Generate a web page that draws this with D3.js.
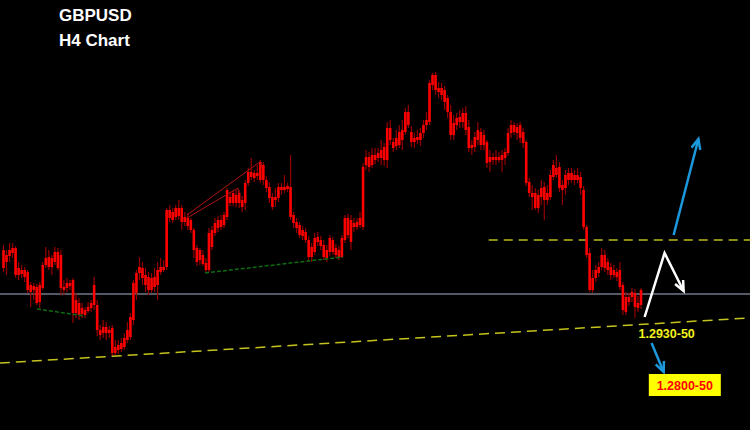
<!DOCTYPE html>
<html>
<head>
<meta charset="utf-8">
<script src="https://cdn.jsdelivr.net/npm/d3@7"></script>
<style>
  body { margin: 0; background: #000; }
</style>
</head>
<body>
<script>
// GBPUSD H4 candles (oldest first)
const open = [
  1.3080,1.3056,1.3068,1.3074,1.3084,1.3030,1.3040,1.3040,1.3036,1.3010,
  1.3000,1.3006,1.2976,1.3004,1.3050,1.3066,1.3046,1.3056,1.3076,1.3070,
  1.3000,1.3004,1.3014,1.3020,1.2954,1.2974,1.2952,1.2960,1.2958,1.2964,
  1.2970,1.2970,1.2920,1.2914,1.2926,1.2914,1.2924,1.2874,1.2890,1.2882,
  1.2886,1.2900,1.2906,1.2940,1.2994,1.3034,1.3044,1.3030,1.3026,1.3000,
  1.3026,1.3010,1.3036,1.3046,1.3046,1.3160,1.3156,1.3146,1.3164,1.3136,
  1.3146,1.3144,1.3140,1.3120,1.3084,1.3060,1.3070,1.3054,1.3040,1.3086,
  1.3114,1.3124,1.3140,1.3130,1.3146,1.3186,1.3174,1.3190,1.3174,1.3180,
  1.3174,1.3214,1.3236,1.3224,1.3234,1.3220,1.3250,1.3220,1.3206,1.3186,
  1.3180,1.3184,1.3206,1.3200,1.3208,1.3206,1.3150,1.3136,1.3130,1.3108,
  1.3116,1.3100,1.3066,1.3076,1.3106,1.3100,1.3090,1.3064,1.3076,1.3100,
  1.3084,1.3080,1.3066,1.3100,1.3144,1.3096,1.3134,1.3126,1.3130,1.3126,
  1.3250,1.3266,1.3250,1.3270,1.3264,1.3264,1.3286,1.3260,1.3324,1.3296,
  1.3288,1.3290,1.3300,1.3316,1.3356,1.3316,1.3296,1.3300,1.3300,1.3314,
  1.3330,1.3336,1.3410,1.3430,1.3404,1.3404,1.3400,1.3384,1.3356,1.3310,
  1.3330,1.3336,1.3336,1.3354,1.3326,1.3284,1.3286,1.3300,1.3316,1.3290,
  1.3296,1.3266,1.3260,1.3266,1.3260,1.3260,1.3264,1.3274,1.3314,1.3330,
  1.3326,1.3304,1.3316,1.3296,1.3216,1.3194,1.3194,1.3164,1.3186,1.3206,
  1.3180,1.3186,1.3226,1.3244,1.3246,1.3210,1.3204,1.3220,1.3234,1.3220,
  1.3230,1.3226,1.3200,1.3126,1.3074,1.3000,1.3024,1.3034,1.3046,1.3070,
  1.3056,1.3046,1.3030,1.3036,1.3040,1.3010,1.2956,1.2986,1.2986,1.2994,
  1.2964,1.2970
];
const close = [
  1.3044,1.3070,1.3080,1.3084,1.3030,1.3044,1.3032,1.3026,1.3000,1.2996,
  1.3008,1.2974,1.3010,1.3050,1.3064,1.3046,1.3064,1.3076,1.3044,1.3004,
  1.3006,1.3014,1.3008,1.2954,1.2980,1.2950,1.2964,1.2950,1.2966,1.2974,
  1.3010,1.2920,1.2910,1.2926,1.2914,1.2920,1.2874,1.2886,1.2880,1.2894,
  1.2904,1.2920,1.2946,1.3014,1.3034,1.3046,1.3024,1.3010,1.3000,1.3024,
  1.3006,1.3040,1.3046,1.3040,1.3160,1.3144,1.3140,1.3164,1.3148,1.3164,
  1.3136,1.3128,1.3120,1.3080,1.3056,1.3080,1.3052,1.3040,1.3114,1.3120,
  1.3134,1.3140,1.3126,1.3150,1.3200,1.3174,1.3194,1.3174,1.3194,1.3166,
  1.3214,1.3236,1.3226,1.3234,1.3228,1.3256,1.3220,1.3204,1.3184,1.3166,
  1.3186,1.3206,1.3200,1.3206,1.3202,1.3146,1.3134,1.3124,1.3110,1.3120,
  1.3100,1.3066,1.3086,1.3104,1.3096,1.3088,1.3066,1.3080,1.3104,1.3076,
  1.3070,1.3066,1.3104,1.3144,1.3110,1.3140,1.3126,1.3136,1.3144,1.3246,
  1.3266,1.3246,1.3270,1.3260,1.3274,1.3280,1.3260,1.3324,1.3300,1.3284,
  1.3304,1.3316,1.3320,1.3356,1.3330,1.3296,1.3304,1.3306,1.3314,1.3330,
  1.3340,1.3414,1.3430,1.3400,1.3396,1.3390,1.3376,1.3356,1.3310,1.3334,
  1.3344,1.3346,1.3354,1.3320,1.3284,1.3290,1.3306,1.3320,1.3290,1.3310,
  1.3254,1.3256,1.3266,1.3260,1.3266,1.3270,1.3276,1.3314,1.3330,1.3316,
  1.3314,1.3330,1.3294,1.3214,1.3194,1.3186,1.3164,1.3190,1.3204,1.3180,
  1.3194,1.3230,1.3250,1.3230,1.3204,1.3200,1.3230,1.3234,1.3220,1.3230,
  1.3220,1.3204,1.3126,1.3070,1.3000,1.3024,1.3040,1.3046,1.3070,1.3044,
  1.3040,1.3030,1.3040,1.3026,1.3006,1.2960,1.2986,1.2976,1.2996,1.2966,
  1.2974,1.3000
];
const high = [
  1.3090,1.3080,1.3094,1.3094,1.3088,1.3056,1.3050,1.3046,1.3040,1.3016,
  1.3014,1.3012,1.3016,1.3056,1.3086,1.3080,1.3070,1.3086,1.3084,1.3080,
  1.3020,1.3024,1.3020,1.3024,1.2994,1.2984,1.2974,1.2966,1.2976,1.2980,
  1.3026,1.2980,1.2930,1.2940,1.2936,1.2928,1.2930,1.2900,1.2900,1.2904,
  1.2914,1.2936,1.2954,1.3020,1.3040,1.3066,1.3056,1.3044,1.3036,1.3034,
  1.3044,1.3056,1.3064,1.3060,1.3164,1.3170,1.3164,1.3170,1.3180,1.3170,
  1.3156,1.3154,1.3144,1.3124,1.3090,1.3084,1.3080,1.3064,1.3124,1.3128,
  1.3144,1.3148,1.3150,1.3156,1.3204,1.3196,1.3200,1.3200,1.3200,1.3188,
  1.3220,1.3244,1.3264,1.3240,1.3250,1.3260,1.3256,1.3228,1.3216,1.3194,
  1.3204,1.3214,1.3214,1.3230,1.3214,1.3270,1.3156,1.3144,1.3136,1.3128,
  1.3124,1.3108,1.3094,1.3114,1.3116,1.3108,1.3100,1.3090,1.3110,1.3106,
  1.3092,1.3088,1.3110,1.3150,1.3152,1.3150,1.3144,1.3144,1.3156,1.3254,
  1.3280,1.3276,1.3284,1.3284,1.3284,1.3300,1.3294,1.3336,1.3340,1.3304,
  1.3320,1.3330,1.3340,1.3364,1.3370,1.3328,1.3314,1.3320,1.3324,1.3340,
  1.3356,1.3420,1.3434,1.3436,1.3416,1.3414,1.3408,1.3390,1.3370,1.3350,
  1.3354,1.3360,1.3364,1.3368,1.3340,1.3300,1.3316,1.3336,1.3324,1.3320,
  1.3300,1.3280,1.3274,1.3280,1.3276,1.3280,1.3284,1.3324,1.3340,1.3336,
  1.3334,1.3336,1.3324,1.3300,1.3224,1.3210,1.3204,1.3200,1.3220,1.3216,
  1.3210,1.3240,1.3260,1.3270,1.3256,1.3220,1.3240,1.3244,1.3244,1.3240,
  1.3244,1.3236,1.3208,1.3130,1.3084,1.3040,1.3050,1.3056,1.3084,1.3080,
  1.3064,1.3054,1.3050,1.3044,1.3056,1.3016,1.2996,1.2994,1.3004,1.3002,
  1.2988,1.3004
];
const low = [
  1.3036,1.3030,1.3056,1.3064,1.3024,1.3020,1.3024,1.3016,1.2994,1.2966,
  1.2980,1.2970,1.2964,1.3000,1.3044,1.3040,1.3030,1.3050,1.3040,1.2990,
  1.2990,1.2996,1.3000,1.2934,1.2944,1.2940,1.2944,1.2944,1.2954,1.2956,
  1.2960,1.2908,1.2900,1.2904,1.2900,1.2904,1.2866,1.2868,1.2872,1.2876,
  1.2880,1.2894,1.2900,1.2930,1.2980,1.3020,1.3010,1.2996,1.2990,1.2994,
  1.2996,1.2980,1.3030,1.3036,1.3040,1.3136,1.3134,1.3140,1.3140,1.3120,
  1.3128,1.3120,1.3114,1.3064,1.3048,1.3050,1.3048,1.3034,1.3036,1.3080,
  1.3108,1.3116,1.3120,1.3124,1.3140,1.3168,1.3168,1.3166,1.3164,1.3156,
  1.3160,1.3208,1.3220,1.3216,1.3220,1.3214,1.3210,1.3196,1.3174,1.3160,
  1.3166,1.3176,1.3190,1.3194,1.3196,1.3140,1.3124,1.3114,1.3104,1.3100,
  1.3094,1.3056,1.3056,1.3070,1.3088,1.3080,1.3060,1.3056,1.3068,1.3070,
  1.3064,1.3060,1.3064,1.3094,1.3104,1.3080,1.3116,1.3120,1.3124,1.3120,
  1.3240,1.3236,1.3244,1.3252,1.3256,1.3250,1.3248,1.3244,1.3290,1.3276,
  1.3280,1.3284,1.3280,1.3310,1.3324,1.3286,1.3284,1.3292,1.3288,1.3304,
  1.3320,1.3330,1.3400,1.3390,1.3384,1.3380,1.3360,1.3344,1.3300,1.3300,
  1.3320,1.3324,1.3324,1.3310,1.3276,1.3270,1.3276,1.3290,1.3280,1.3280,
  1.3244,1.3236,1.3250,1.3250,1.3254,1.3236,1.3250,1.3268,1.3304,1.3310,
  1.3300,1.3294,1.3284,1.3208,1.3186,1.3160,1.3160,1.3154,1.3170,1.3140,
  1.3170,1.3180,1.3220,1.3224,1.3196,1.3170,1.3190,1.3210,1.3214,1.3210,
  1.3214,1.3190,1.3120,1.3064,1.2996,1.2994,1.3016,1.3026,1.3040,1.3036,
  1.3030,1.3020,1.3024,1.3018,1.3000,1.2950,1.2950,1.2968,1.2976,1.2944,
  1.2956,1.2962
];

// horizontal price levels
const currentPrice = 1.2992;
const resistance = { from: 160.6, level: 1.3100 };

// drawn lines, as [candle index, price] points
const supportLine = [[-1.2, 1.2854], [246.6, 1.2944]];
const greenLines = [
  [[11.1, 1.2962], [27.0, 1.2948]],
  [[66.7, 1.3034], [112.3, 1.3066]]
];
const wedgeLines = [
  [[60.7, 1.3150], [84.8, 1.3256], [85.5, 1.3244]],
  [[60.7, 1.3144], [77.6, 1.3204], [77.9, 1.3190]]
];
const whitePath = [[212.2, 1.2946], [218.8, 1.3074], [225.1, 1.2998]];
const blueArrows = [
  [[221.8, 1.3110], [230.0, 1.3302]],
  [[214.5, 1.2894], [218.5, 1.2836]]
];

const titleLines = ["GBPUSD", "H4 Chart"];
const targetLabel = { text: "1.2930-50", i: 219.5, price: 1.2904 };
const targetBox = { text: "1.2800-50", i: 225.5, price: 1.2810 };

const width = 750, height = 430;

const svg = d3.select("body").append("svg")
    .attr("width", width).attr("height", height)
    .style("display", "block")
    .style("background", "#000");

const x = d3.scaleLinear().domain([0, open.length - 1]).range([3.5, 641]);
const y = d3.scaleLinear().domain([1.2720, 1.3580]).range([height, 0]);
const step = x(1) - x(0);
const bodyW = step * 0.86;

const line = d3.line().x(d => x(d[0])).y(d => y(d[1]));

// current price line
svg.append("line")
    .attr("x1", 0).attr("x2", width)
    .attr("y1", y(currentPrice)).attr("y2", y(currentPrice))
    .attr("stroke", "#555a66").attr("stroke-width", 2);

// resistance dashed line
svg.append("line")
    .attr("x1", x(resistance.from)).attr("x2", width)
    .attr("y1", y(resistance.level)).attr("y2", y(resistance.level))
    .attr("stroke", "#bcbc1c").attr("stroke-width", 1.5)
    .attr("stroke-dasharray", "9,6");

// candles
const candles = svg.append("g").selectAll("g")
    .data(d3.range(open.length))
    .join("g");

candles.append("line")
    .attr("x1", i => x(i)).attr("x2", i => x(i))
    .attr("y1", i => y(high[i])).attr("y2", i => y(low[i]))
    .attr("stroke", "#960000").attr("stroke-width", 1.2);

candles.append("rect")
    .attr("x", i => x(i) - bodyW / 2)
    .attr("width", bodyW)
    .attr("y", i => y(Math.max(open[i], close[i])))
    .attr("height", i => Math.max(1, y(Math.min(open[i], close[i])) - y(Math.max(open[i], close[i]))))
    .attr("fill", "#ff0000");

// support line
svg.append("path")
    .attr("d", line(supportLine))
    .attr("fill", "none")
    .attr("stroke", "#c4c41e").attr("stroke-width", 1.5)
    .attr("stroke-dasharray", "10,6");

// green trend lines
greenLines.forEach(pts => {
  svg.append("path")
      .attr("d", line(pts))
      .attr("fill", "none")
      .attr("stroke", "#0f6a12").attr("stroke-width", 1.5)
      .attr("stroke-dasharray", "4,2");
});

// wedge lines
wedgeLines.forEach(pts => {
  svg.append("path")
      .attr("d", line(pts))
      .attr("fill", "none")
      .attr("stroke", "#b01212").attr("stroke-width", 1);
});

// arrow head helper
function arrowHead(pts, color) {
  const a = pts[pts.length - 2], b = pts[pts.length - 1];
  const x1 = x(a[0]), y1 = y(a[1]), x2 = x(b[0]), y2 = y(b[1]);
  const ang = Math.atan2(y2 - y1, x2 - x1);
  const len = 11, spread = 0.42;
  const p1 = [x2 - len * Math.cos(ang - spread), y2 - len * Math.sin(ang - spread)];
  const p2 = [x2 - len * Math.cos(ang + spread), y2 - len * Math.sin(ang + spread)];
  svg.append("path")
      .attr("d", `M${p1[0]},${p1[1]}L${x2},${y2}L${p2[0]},${p2[1]}`)
      .attr("fill", "none")
      .attr("stroke", color).attr("stroke-width", 2.5)
      .attr("stroke-linejoin", "miter");
}

// white projection
svg.append("path")
    .attr("d", line(whitePath))
    .attr("fill", "none")
    .attr("stroke", "#ffffff").attr("stroke-width", 2.5)
    .attr("stroke-linejoin", "miter");
arrowHead(whitePath, "#ffffff");

// blue arrows
blueArrows.forEach(pts => {
  svg.append("path")
      .attr("d", line(pts))
      .attr("fill", "none")
      .attr("stroke", "#1c98dc").attr("stroke-width", 2.5);
  arrowHead(pts, "#1c98dc");
});

// titles
svg.selectAll("text.title")
    .data(titleLines)
    .join("text")
    .attr("class", "title")
    .attr("x", 59)
    .attr("y", (d, i) => 21 + i * 25)
    .attr("fill", "#ffffff")
    .attr("font-family", "Liberation Sans, Arial, sans-serif")
    .attr("font-weight", "bold")
    .attr("font-size", 17)
    .text(d => d);

// target label
svg.append("text")
    .attr("x", x(targetLabel.i))
    .attr("y", y(targetLabel.price))
    .attr("text-anchor", "middle")
    .attr("fill", "#f2f21c")
    .attr("font-family", "Liberation Sans, Arial, sans-serif")
    .attr("font-weight", "bold")
    .attr("font-size", 12.5)
    .text(targetLabel.text);

// target box
const bx = x(targetBox.i), by = y(targetBox.price);
svg.append("rect")
    .attr("x", bx - 36).attr("y", by - 11)
    .attr("width", 72).attr("height", 22)
    .attr("fill", "#ffff00");
svg.append("text")
    .attr("x", bx)
    .attr("y", by + 5)
    .attr("text-anchor", "middle")
    .attr("fill", "#ff0000")
    .attr("font-family", "Liberation Sans, Arial, sans-serif")
    .attr("font-weight", "bold")
    .attr("font-size", 12.5)
    .text(targetBox.text);
</script>
</body>
</html>
